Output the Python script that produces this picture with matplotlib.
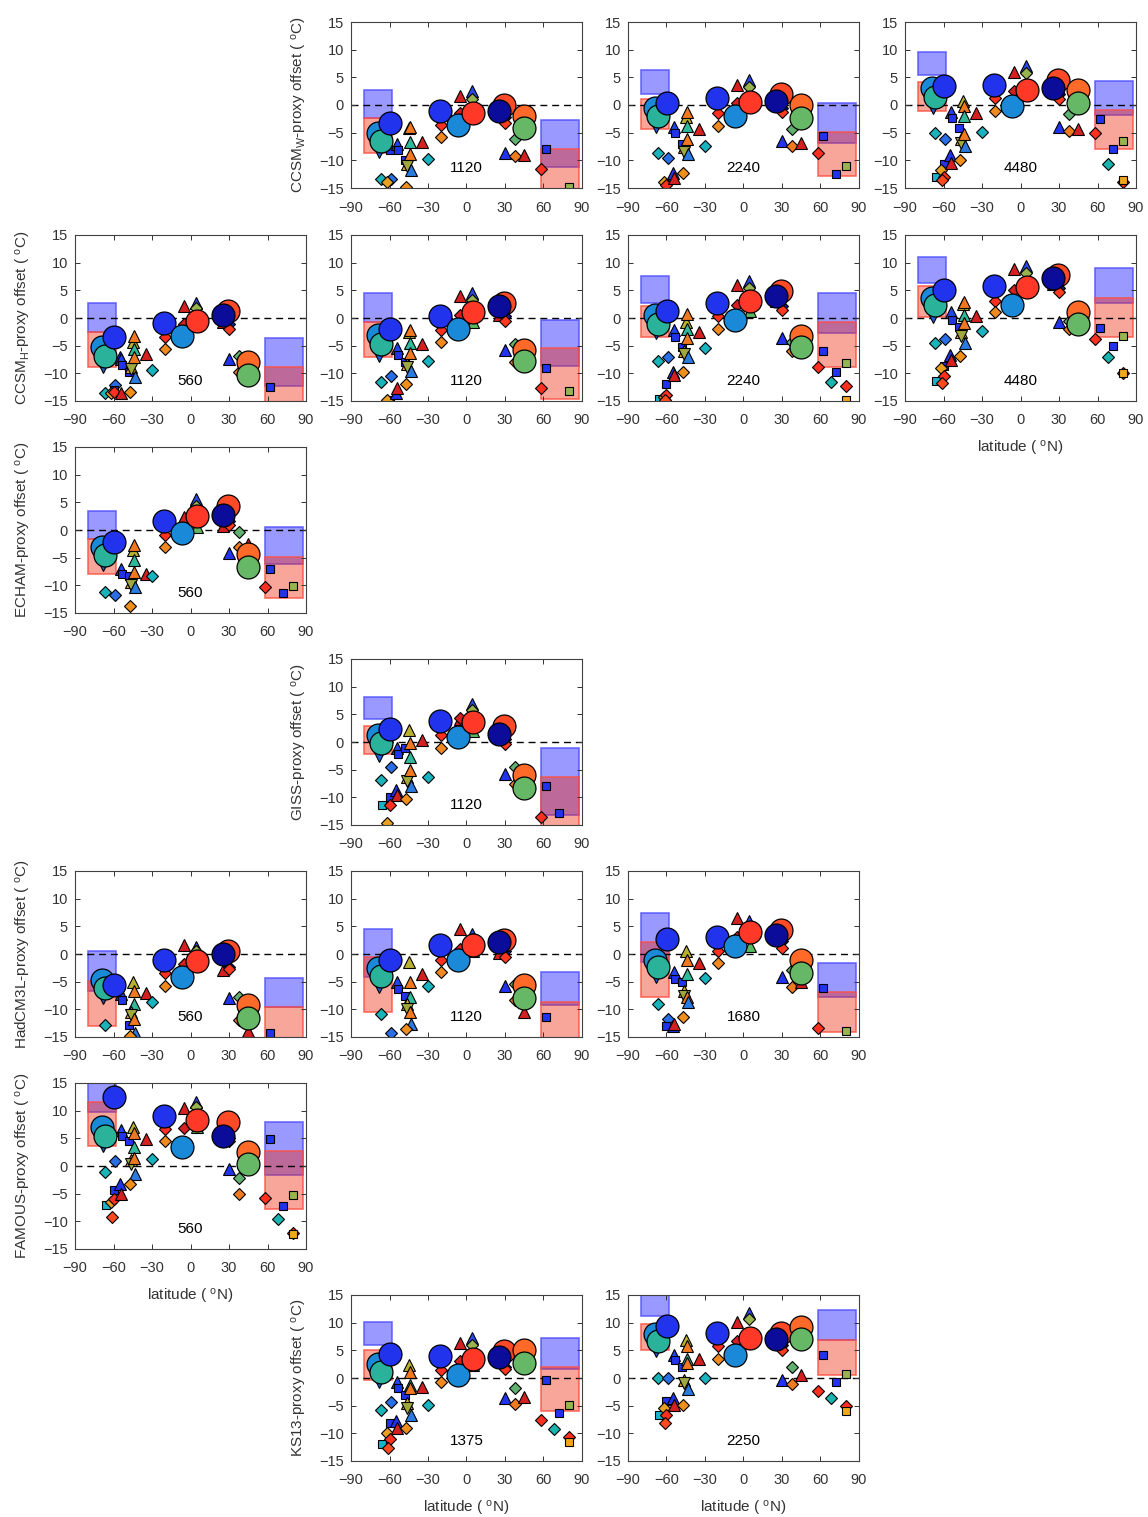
import numpy as np
import matplotlib
matplotlib.use('Agg')
import matplotlib.pyplot as plt
from matplotlib.patches import Rectangle

plt.rcParams['font.family'] = ['Liberation Sans', 'DejaVu Sans']
plt.rcParams['mathtext.fontset'] = 'custom'
plt.rcParams['mathtext.rm'] = 'Liberation Sans'
plt.rcParams['mathtext.it'] = 'Liberation Sans:italic'

N = np.nan

# ---- proxy sites (latitude, marker, colour) ----
site_lat = [-67, -66, -68, -59, -60, -62, -60, -61, -55, -54, -54, -53, -48,
            -45, -44, -44, -46, -46, -44, -43, -47, -35, -30, -20, -20,
            -5, -5, 4, 4, 5, 25, 30, 30, 30, 38, 38, 45, 58, 62, 68, 72, 80, 80, 80]
site_mk = ['D', 's', 'v', 'D', 's', 'D', 'D', 'D', '^', '^', '^', 's', 's',
           '^', '^', '^', '^', 'v', '^', '^', 'D', '^', 'D', 'D', 'D',
           '^', 'D', '^', 'D', '^', '^', 'D', 'D', '^', 'D', 'D', '^', 'D', 's', 'D', 's', 's', 'D', 's']
site_col = ['#19b3b8', '#19b3c8', '#2060e0', '#2a6ee6', '#2233ee', '#e8a020', '#ff3020', '#ff4a20',
            '#2233ee', '#d42020', '#2244ee', '#2233ee', '#2233ee',
            '#b8b030', '#f07820', '#30b89a', '#e8a830', '#a0a840', '#f07820', '#2a7ae0', '#f0901a',
            '#d42020', '#19b3c0', '#ff3020', '#f08a20',
            '#d42020', '#d42020', '#2a4ae8', '#98b450', '#5cb860', '#d42020', '#1a1aa0', '#ff3a20',
            '#2233ee', '#60b070', '#f07a20', '#d42020', '#ff3020', '#2233ee', '#19b3b0', '#2233ee',
            '#98b450', '#ff3020', '#f0a818']

# ---- zonal-mean model circles ----
circ_lat = [-69, -66.5, -59.5, -21, -6.5, 5, 29.5, 25.5, 44.5, 44.5]
circ_col = ['#1a8ad8', '#2ab39a', '#2233ee', '#2233ee', '#1a8ad8', '#ff3828',
            '#ff4a28', '#0c0c9a', '#ff6a28', '#66b866']

# ---- proxy ranges: left box [blue lo, blue hi, red lo, red hi], right box same ----
box_left_x = [-80, -58]
box_right_x = [58, 88]

# ---- panel values ----
ccsmw_1120_sites = [-13.3, N, -8.5, -13.3, -8.1, -14, N, N, N, N, -7, -8.1, -9.9,
                    -4.2, -4, -6.6, -10.6, -11, -8.8, -11.7, -14.8, -6.6, -9.7, -3.6, -5.7,
                    1.7, -1.5, 2.5, 1.1, -0.8, -0.8, -2.1, -3.3, -8.6, -6.2, -9.2, -9, -11.5, -8, N, N, -14.9, N, N]
ccsmw_1120_circ = [-5, -6.5, -3.2, -1, -3.6, -1.5, 0, -1, -2, -4.2]
ccsmw_1120_box = [[-2.4, 2.7, -8.6, -2.4], [-11.2, -2.8, -16, -7.9]]

ccsmw_2240_sites = [-8.6, N, -3.9, -9.6, -14.1, -13.9, -14.5, N, -12.3, -13.2, -3.9, -5, -7,
                    -2.1, -1.2, -3.8, -7.5, -8.5, -6.2, -8.8, -12.3, -4.4, -7.4, -1.5, -3.8,
                    3.7, 0.4, 4.6, 3.3, 1, 1, -0.5, -1.3, -6.5, -4.4, -7.4, -6.9, -8.6, -5.6, N, -12.4, -11, N, N]
ccsmw_2240_circ = [-0.5, -2, 0.4, 1.2, -2, 0.5, 2, 0.8, 0, -2.3]
ccsmw_2240_box = [[1.9, 6.3, -4.4, 1.1], [-6.8, 0.4, -12.9, -4.9]]

ccsmw_4480_sites = [-5.1, -13, -0.5, -6.1, -10.6, -11.8, -13, -13.6, -9.1, -10.5, -1.2, -2.4, -4.2,
                    0.7, -0.1, -1.9, -6.2, -6.8, -5.3, -7.4, -10, -1.5, -4.8, 1.2, -1,
                    6, 2.5, 7.1, 5.7, 3.4, 2.9, 1.9, 1.1, -4, -1.6, -4.7, -4.4, -5.1, -2.5, -10.6, -7.9, -6.5, -14, -13.5]
ccsmw_4480_circ = [3, 1.5, 3.5, 3.6, -0.2, 2.8, 4.5, 3, 2.7, 0.3]
ccsmw_4480_box = [[5.4, 9.5, -1, 4.1], [-1.8, 4.4, -8, -0.9]]

ccsmh_560_sites = [-13.6, N, -8.8, -12.1, -13.1, -13.5, -13.3, N, -7.1, -13.6, -7.4, -8.5, -9.8,
                   -4.3, -3.2, -5.6, -8.8, -9.3, -7, -10.7, -13.4, -6.5, -9.4, -3.5, -5.6,
                   2.2, -1.1, 2.7, 1.8, -0.5, -0.8, -1.1, -2, -7.4, -6.8, -9.8, -9, N, -12.4, N, N, N, N, N]
ccsmh_560_circ = [-5.2, -6.9, -3.4, -0.9, -3.2, -0.6, 1.3, 0.6, -8, -10.3]
ccsmh_560_box = [[-2.6, 2.8, -8.8, -2.6], [-12.3, -3.6, -16, -8.8]]

ccsmh_1120_sites = [-11.5, N, -6.8, -10.4, -14.8, -14.9, N, N, -13.5, -12.7, -5.5, -6.7, -8,
                    -2.5, -2.1, -4.5, -8.3, -8.9, -6.4, -9.5, -11.9, -4.7, -7.7, -2.2, -4.3,
                    4, 0.6, 4.6, 3.3, -0.8, 0.5, 0.4, -0.5, -5.7, -4.7, -8, -7.5, -12.7, -9, N, N, -13.2, N, N]
ccsmh_1120_circ = [-3, -4.7, -1.9, 0.4, -2, 1, 2.8, 2.2, -5.7, -7.8]
ccsmh_1120_box = [[-0.8, 4.5, -7, -0.8], [-8.7, -0.3, -14.7, -5.4]]

ccsmh_2240_sites = [-7.7, -14.7, -2.7, -7.1, -11.9, -14.3, -13.9, -14.9, -9.7, -10.3, -2.2, -3.5, -5.3,
                    -0.8, 0.7, -1.9, -5.9, -6.5, -3.7, -7, -9.7, -2.5, -5.5, 0.4, -1.9,
                    6, 2.4, 6.6, 5.4, 1.3, 3.1, 2.2, 1.4, -3.7, -4.4, -5.9, -5, -8.9, -5.9, -11.6, -9.8, -8.1, -12.2, -14.8]
ccsmh_2240_circ = [0.5, -1, 1.3, 2.7, -0.3, 3, 4.8, 4, -3.2, -5.3]
ccsmh_2240_box = [[2.7, 7.5, -3.5, 2.2], [-2.7, 4.5, -8.9, -0.8]]

ccsmh_4480_sites = [-4.5, -11.4, 0.1, -3.8, -8.7, -9, -10.5, -11.8, -6.7, -7.5, 1, -0.3, -1.6,
                    2.5, 2.9, 0.5, -2.5, -3.3, -0.9, -4.5, -6.9, 0.4, -2.4, 3.1, 1,
                    8.8, 5, 9.4, 8.2, 6, 6.2, 5.5, 4.7, -0.8, -0.6, -2, -0.4, -3.8, -1.8, -7.1, -5, -3.2, -10, -10]
ccsmh_4480_circ = [3.7, 2.3, 5.1, 5.7, 2.3, 5.6, 7.8, 7.2, 1.1, -1]
ccsmh_4480_box = [[6.4, 11, 0.1, 5.7], [2.7, 9, -3.5, 3.7]]

echam_560_sites = [-11.2, N, -6.4, -11.8, N, N, N, N, N, N, -7, -8, -8.4,
                   -3.7, -2.8, -5.5, -9.4, -10, -7.5, -10.3, -13.8, -7.9, -8.3, -0.9, -3.1,
                   2.4, -0.1, 5.6, 4.4, 0.5, 0.8, 1.7, 0.9, -4.2, -0.4, -3.1, -2.5, -10.3, -7, N, -11.4, -10.2, N, N]
echam_560_circ = [-3, -4.5, -2.1, 1.6, -0.5, 2.5, 4.3, 2.7, -4.3, -6.7]
echam_560_box = [[-1.7, 3.5, -7.9, -1.7], [-6.1, 0.5, -12.2, -4.8]]

giss_1120_sites = [-6.9, -11.3, -2.5, -4.5, -10, -14.6, -11.4, N, -8.6, -9.6, -1, -2.2, -1.1,
                   2.2, -0.1, -2.8, -6.3, -7, -5, -8, -10.3, 0.3, -6.3, 1.2, -1.1,
                   4.2, 4.4, 6.8, 5.7, 2, 3.3, 0.5, -0.4, -5.7, -4.6, -7.5, -8, -13.6, -8, N, -12.8, N, N, N]
giss_1120_circ = [1.2, -0.2, 2.4, 3.8, 0.9, 3.6, 2.9, 1.5, -6, -8.4]
giss_1120_box = [[4.1, 8.2, -2.1, 2.9], [-13.2, -1, -16, -6.3]]

had_560_sites = [-12.8, N, -8, N, N, N, N, N, N, N, -7.3, -8.4, -12.8,
                 -5.1, -6.6, -9, -10.5, -11.1, -11.7, -14.2, -14.8, -7.1, -8.7, -3.5, -5.7,
                 1.6, -1.8, 1.3, 0.6, -1.5, -2.9, -2.3, -2.7, -8, -7.8, -11.9, -14, N, -14.2, N, N, N, N, N]
had_560_circ = [-4.7, -6.2, -5.6, -1.1, -4.2, -1.3, 0.5, 0, -9.2, -11.6]
had_560_box = [[-6.6, 0.5, -13, -4.8], [-9.6, -4.4, -16, -9.6]]

had_1120_sites = [-10.8, N, -5.9, -14.3, N, N, N, N, N, N, -5.1, -6.3, -7.5,
                  -1.5, -5.1, -7.7, -9, -9.9, -10.5, -12.7, -13.6, -3.7, -5.7, -1, -3.2,
                  4.5, 0.9, 3.6, 2.7, 0.6, 0.2, 0.6, -0.6, -5.7, -5.4, -8.4, -10.5, N, -11.4, N, N, N, N, N]
had_1120_circ = [-2.5, -4, -1, 1.6, -1, 1.6, 2.6, 2.1, -5.6, -7.9]
had_1120_box = [[-4.2, 4.6, -10.4, -0.6], [-9.2, -3.2, -16, -8.6]]

had_1680_sites = [-9, N, -4.1, -11.7, -13, N, N, N, -13.1, -12.7, -3.3, -4.5, -5.1,
                  0.6, -1.1, -3.6, -6.6, -7.5, -7.8, -8.7, -11.4, -1.7, -4.3, 0.6, -1.7,
                  6.5, 3.1, 5.9, 4.8, 1.5, 2.9, 2.4, 1.1, -4.2, -2.9, -6, -5.1, -13.3, -6.2, N, N, -14, N, N]
had_1680_circ = [-1, -2.3, 2.8, 3, 1.5, 3.9, 4.3, 3.5, -1, -3.4]
had_1680_box = [[-1.5, 7.4, -7.7, 2.2], [-7.8, -1.7, -14.1, -6.9]]

famous_560_sites = [-1, -7, 3.6, 0.9, -4.4, -6.5, -6, -9.2, -3.2, -5, 6.5, 5.5, 4.5,
                    7, 6, 3.4, 1, 0.4, 1.5, -1.5, -3.3, 4.8, 1.3, 6.6, 4.5,
                    10.4, 6.8, 11.5, 10.6, 7, 6, 5, 4.6, -0.6, -2.1, -5, 1, -5.8, 4.9, -9.6, -7.3, -5.3, -12.1, -12.3]
famous_560_circ = [7, 5.5, 12.5, 9.1, 3.5, 8.3, 7.9, 5.4, 2.6, 0.3]
famous_560_box = [[9.8, 16, 3.6, 11.5], [-1.7, 8, -7.8, 2.8]]

ks13_1375_sites = [-5.8, -12, -0.7, -4.3, -8.1, -10, -11.1, -12.7, -7.8, -9.1, -0.7, -1.8, -3,
                   2.4, 1, -1.3, -4.6, -5.4, -1.8, -6.6, -9.1, -1.6, -4.8, 1.5, -0.8,
                   6.4, 3, 7.2, 5.9, 2.3, 3.4, 2, 1.6, -3.7, -1.8, -4.7, -3.5, -7.6, -0.3, -9.3, -6.4, -4.9, -10.6, -11.6]
ks13_1375_circ = [2.5, 1, 4.4, 4, 0.6, 3.5, 4.8, 3.8, 5, 2.7]
ks13_1375_box = [[5.9, 10.2, -0.3, 5], [1.7, 7.2, -6, 2]]

ks13_2250_sites = [0, -6.7, 4.8, 0, -4.2, -5.4, -6.6, -8.1, -3.6, -4.8, 4.2, 3.3, 2,
                   6.9, 5.7, 3.4, -0.3, -0.9, 2.8, -2, -4.8, 3.4, 0, 5.7, 3.5,
                   10.2, 6.7, 11.8, 10.6, 8, 7, 6, 5, -0.3, 2, -1, 0.6, -2.4, 4.2, -3.6, -0.8, 0.7, -5, -6]
ks13_2250_circ = [8, 6.6, 9.4, 8.2, 4.2, 7.3, 8.2, 7.1, 9.3, 7]
ks13_2250_box = [[11.2, 16, 5, 9.8], [6.9, 12.2, 0.5, 6.9]]

lab_w = r'CCSM$_{\rm W}$-proxy offset ( $^{\rm o}$C)'
lab_h = r'CCSM$_{\rm H}$-proxy offset ( $^{\rm o}$C)'
lab_echam = r'ECHAM-proxy offset ( $^{\rm o}$C)'
lab_giss = r'GISS-proxy offset ( $^{\rm o}$C)'
lab_had = r'HadCM3L-proxy offset ( $^{\rm o}$C)'
lab_famous = r'FAMOUS-proxy offset ( $^{\rm o}$C)'
lab_ks = r'KS13-proxy offset ( $^{\rm o}$C)'
xlab = r'latitude ( $^{\rm o}$N)'

# row, col, ylabel, co2 label, sites, circles, boxes, show xlabel
panels = [
    (0, 1, lab_w, '1120', ccsmw_1120_sites, ccsmw_1120_circ, ccsmw_1120_box, False),
    (0, 2, None, '2240', ccsmw_2240_sites, ccsmw_2240_circ, ccsmw_2240_box, False),
    (0, 3, None, '4480', ccsmw_4480_sites, ccsmw_4480_circ, ccsmw_4480_box, False),
    (1, 0, lab_h, '560', ccsmh_560_sites, ccsmh_560_circ, ccsmh_560_box, False),
    (1, 1, None, '1120', ccsmh_1120_sites, ccsmh_1120_circ, ccsmh_1120_box, False),
    (1, 2, None, '2240', ccsmh_2240_sites, ccsmh_2240_circ, ccsmh_2240_box, False),
    (1, 3, None, '4480', ccsmh_4480_sites, ccsmh_4480_circ, ccsmh_4480_box, True),
    (2, 0, lab_echam, '560', echam_560_sites, echam_560_circ, echam_560_box, False),
    (3, 1, lab_giss, '1120', giss_1120_sites, giss_1120_circ, giss_1120_box, False),
    (4, 0, lab_had, '560', had_560_sites, had_560_circ, had_560_box, False),
    (4, 1, None, '1120', had_1120_sites, had_1120_circ, had_1120_box, False),
    (4, 2, None, '1680', had_1680_sites, had_1680_circ, had_1680_box, False),
    (5, 0, lab_famous, '560', famous_560_sites, famous_560_circ, famous_560_box, True),
    (6, 1, lab_ks, '1375', ks13_1375_sites, ks13_1375_circ, ks13_1375_box, True),
    (6, 2, None, '2250', ks13_2250_sites, ks13_2250_circ, ks13_2250_box, True),
]

W, H = 1148, 1517
col_x = [75, 351, 628, 905]
row_y = [22, 235, 447, 659, 871, 1083, 1295]
aw, ah = 231, 166
msize = {'D': 6.3, 's': 6.4, '^': 8, 'v': 8}
txt = '#333333'

fig = plt.figure(figsize=(W / 100, H / 100), dpi=100)

for row, col, ylab, co2, sites, circ, boxes, show_x in panels:
    ax = fig.add_axes([col_x[col] / W, 1 - (row_y[row] + ah) / H, aw / W, ah / H])

    # proxy range boxes (blue under red)
    for xr, b in zip([box_left_x, box_right_x], boxes):
        ax.add_patch(Rectangle((xr[0], b[0]), xr[1] - xr[0], b[1] - b[0],
                               facecolor=(0, 0, 1, 0.4), edgecolor=(0.3, 0.3, 1, 0.8), lw=1.2, zorder=1))
        ax.add_patch(Rectangle((xr[0], b[2]), xr[1] - xr[0], b[3] - b[2],
                               facecolor=(0.94, 0.16, 0.06, 0.42), edgecolor=(1, 0.3, 0.25, 0.8), lw=1.2, zorder=1.1))

    ax.axhline(0, color='k', ls=(0, (5, 3.5)), lw=1, zorder=1.5)

    for lat, val, mk, c in zip(site_lat, sites, site_mk, site_col):
        if np.isnan(val):
            continue
        ax.plot(lat, val, marker=mk, ms=msize[mk], mfc=c, mec='k', mew=0.8, ls='none', zorder=2)

    for lat, val, c in zip(circ_lat, circ, circ_col):
        ax.plot(lat, val, marker='o', ms=16.5, mfc=c, mec='k', mew=0.9, ls='none', zorder=3)

    ax.text(0, -11.3, co2, ha='center', va='center', fontsize=11, color='k', zorder=4)

    ax.set_xlim(-90, 90)
    ax.set_ylim(-15, 15)
    ax.set_xticks(np.arange(-90, 91, 30))
    ax.set_yticks(np.arange(-15, 16, 5))
    ax.tick_params(direction='in', top=True, right=True, labelsize=10.5,
                   colors=txt, length=3.5, width=0.7)
    ax.tick_params(axis='x', pad=9)
    ax.tick_params(axis='y', pad=5)
    for s in ax.spines.values():
        s.set_color('#404040')
        s.set_linewidth(0.8)
    if ylab:
        ax.set_ylabel(ylab, fontsize=11, color=txt, labelpad=7)
    if show_x:
        ax.set_xlabel(xlab, fontsize=11, color=txt, labelpad=8)

fig.savefig('out.png', dpi=100)
